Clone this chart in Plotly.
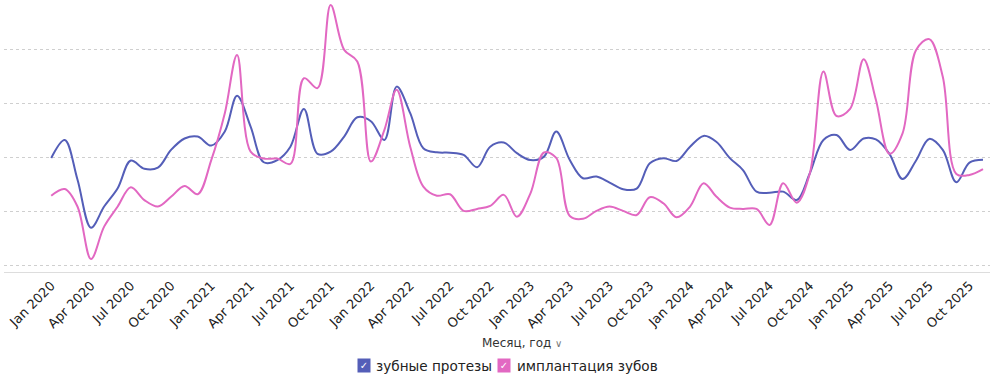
import plotly.graph_objects as go
import pandas as pd

months = pd.date_range("2020-01-01", "2025-11-01", freq="MS")

dentures = [50, 58.3, 40, 17.7, 27.5, 36, 48.8, 45, 45.5, 53.7, 59, 59.9,
            55.7, 62.2, 78.8, 64.5, 48, 49, 55.2, 72.7, 51.9, 52.9, 59.9, 68.8,
            67, 58.3, 83, 70.7, 54.5, 52.6, 52.4, 51.4, 45.7, 55.2, 57.1, 52.2,
            49, 50.6, 62.2, 49, 40.6, 41.4, 38.6, 35.5, 35.8, 47.5, 49.9, 48.6,
            55.2, 60.2, 57.5, 49.9, 44.4, 34.4, 33.9, 34.4, 30.5, 42.9, 58.3, 60.6,
            53.7, 59, 58.6, 51.9, 40.2, 48.8, 58.8, 53.7, 38.7, 47.8, 49.1]

implants = [32.5, 35.6, 27.5, 3.2, 18.2, 27.5, 36.4, 30.5, 27.5, 32, 37, 33.2,
            49, 70.7, 97.7, 52.9, 49.7, 49.7, 47.2, 86.9, 82.3, 120.8, 100, 94.6,
            48.3, 63, 81.5, 55.2, 36.7, 32.5, 33.2, 25.5, 26.4, 27.8, 32.9, 22.8,
            33.6, 52.5, 50, 23.1, 21.8, 25.5, 27.5, 25.5, 23.6, 31.8, 29, 22.5,
            27.5, 38.3, 32.1, 27, 26.4, 26.4, 19, 38.3, 29.3, 42.9, 90, 69.4,
            72.7, 95.7, 76.9, 51.9, 61.4, 100, 105, 87.6, 42.6, 42.1, 44.8]

series_names = ["зубные протезы", "имплантация зубов"]
colors = ["#545EB8", "#E268C2"]

W, H = 990, 376
ML, MR, MT, MB = 4, 0, 0, 104
PW, PH = W - ML - MR, H - MT - MB

def px(x):
    return (x - ML) / PW

def py(y):
    return (MT + PH - y) / PH

fig = go.Figure()
for name, vals, c in zip(series_names, [dentures, implants], colors):
    fig.add_trace(go.Scatter(x=months, y=vals, name=name, mode="lines",
                             line=dict(color=c, width=2, shape="spline", smoothing=1),
                             showlegend=False))

font = "DejaVu Sans, Verdana, sans-serif"

fig.update_layout(
    width=W, height=H,
    margin=dict(l=ML, r=MR, t=MT, b=MB, autoexpand=False),
    paper_bgcolor="white", plot_bgcolor="white",
    font=dict(family=font, color="#333333"),
    xaxis=dict(
        type="date",
        range=["2019-09-15", "2025-11-17"],
        tick0="2020-01-01", dtick="M3", tickformat="%b %Y",
        tickangle=-45, tickfont=dict(size=13, color="#222222"),
        showgrid=False, showline=True, linecolor="#dddddd", linewidth=1,
        ticks="", zeroline=False, automargin=False,
    ),
    yaxis=dict(
        range=[-2.8, 123.1],
        tickvals=[0, 25, 50, 75, 100],
        showticklabels=False,
        showgrid=True, gridcolor="#cfcfcf", griddash="dot", gridwidth=1,
        zeroline=False, showline=False, ticks="", automargin=False,
    ),
)

annotations = [
    dict(x=px(522), y=py(343), xref="paper", yref="paper",
         text='Месяц, год <span style="font-size:10px;color:#777">∨</span>',
         showarrow=False, font=dict(size=12, color="#333333"),
         xanchor="center", yanchor="middle"),
]

legend_items = [(364, 374), (504, 515)]
for (bx, tx), name, c in zip(legend_items, series_names, colors):
    annotations.append(dict(x=px(bx), y=py(365), xref="paper", yref="paper",
                            text="✓", showarrow=False, bgcolor=c, width=12, height=13,
                            borderpad=0, font=dict(size=10, color="white"),
                            xanchor="center", yanchor="middle"))
    annotations.append(dict(x=px(tx), y=py(366), xref="paper", yref="paper",
                            text=name, showarrow=False,
                            font=dict(size=13.6, color="#222222"),
                            xanchor="left", yanchor="middle"))

fig.update_layout(annotations=annotations)

fig.write_html("out.html", config={"displayModeBar": False},
               post_script="document.body.style.margin='0';document.body.style.overflow='hidden';")
